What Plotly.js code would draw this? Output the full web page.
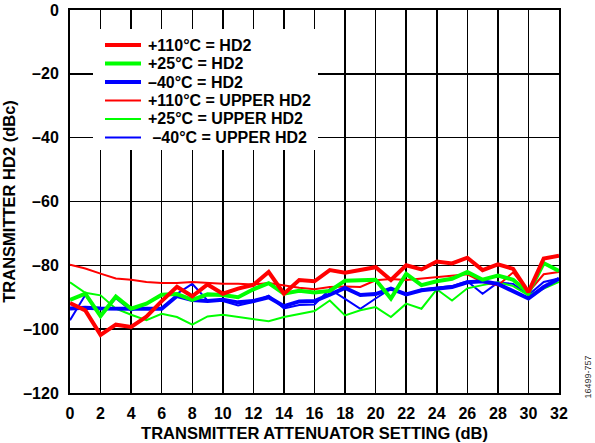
<!DOCTYPE html>
<html>
<head>
<meta charset="utf-8">
<script src="https://cdn.plot.ly/plotly-3.0.1.min.js"></script>
<style>html,body{margin:0;padding:0;background:#fff;}#chart{width:595px;height:443px;}</style>
</head>
<body>
<div id="chart"></div>
<script>
// Attenuator setting (dB)
const attenuation = [0,1,2,3,4,5,6,7,8,9,10,11,12,13,14,15,16,17,18,19,20,21,22,23,24,25,26,27,28,29,30,31,32];

// HD2 (dBc)
const hd2_p110 = [-91.8,-94.1,-101.8,-98.6,-99.3,-96.1,-91.2,-86.7,-89.7,-86.0,-88.9,-87.3,-86.1,-82.1,-88.9,-84.6,-85.0,-81.5,-82.3,-81.3,-80.6,-84.6,-80.0,-81.3,-78.8,-79.4,-77.6,-81.5,-79.7,-81.1,-88.4,-77.9,-77.0];
const hd2_p25  = [-90.8,-88.9,-95.9,-89.8,-93.6,-92.0,-89.2,-89.0,-90.8,-89.1,-89.3,-90.0,-87.5,-85.6,-88.9,-88.0,-88.5,-88.0,-84.8,-84.7,-84.5,-90.4,-82.7,-86.2,-85.0,-84.2,-82.1,-84.5,-83.2,-84.5,-88.6,-79.3,-81.8];
const hd2_m40  = [-93.5,-93.3,-93.5,-93.7,-93.6,-93.6,-93.6,-89.6,-90.9,-91.2,-90.8,-91.6,-91.2,-90.0,-92.8,-91.3,-91.2,-89.2,-87.1,-89.3,-89.0,-87.3,-89.1,-87.8,-87.3,-86.8,-85.3,-85.0,-85.8,-88.0,-90.4,-86.8,-84.2];

// Upper HD2 (dBc)
const upper_p110 = [-79.8,-81.0,-82.6,-84.1,-84.5,-85.2,-85.5,-85.5,-85.2,-85.5,-85.8,-85.8,-86.0,-85.5,-86.3,-87.0,-87.5,-86.8,-86.6,-86.8,-84.7,-84.3,-84.6,-84.1,-83.7,-83.3,-82.8,-85.2,-86.3,-82.2,-88.4,-82.8,-82.1];
const upper_p25  = [-85.3,-88.6,-89.4,-93.6,-95.5,-97.2,-95.2,-96.2,-98.6,-96.0,-95.5,-96.2,-97.0,-97.5,-96.2,-95.3,-94.3,-91.0,-95.7,-94.1,-93.1,-96.2,-92.0,-93.6,-87.5,-91.0,-87.2,-86.2,-85.3,-86.5,-89.4,-87.3,-85.2];
const upper_m40  = [-97.2,-89.3,-96.0,-90.3,-94.2,-92.0,-89.4,-88.9,-85.8,-91.0,-91.2,-92.6,-91.5,-89.5,-93.5,-92.4,-92.3,-87.5,-90.5,-93.6,-90.4,-87.3,-89.3,-87.6,-87.0,-86.5,-85.0,-88.9,-85.4,-85.8,-89.3,-85.2,-84.1];

const seriesNames = ['+110°C = HD2','+25°C = HD2','–40°C = HD2','+110°C = UPPER HD2','+25°C = UPPER HD2',' –40°C = UPPER HD2'];

const xTickVals = [0,2,4,6,8,10,12,14,16,18,20,22,24,26,28,30,32];
const xTickText = ['0','2','4','6','8','10','12','14','16','18','20','22','24','26','28','30','32'];
const yTickVals = [-120,-100,-80,-60,-40,-20,0];
const yTickText = ['–120','–100','–80','–60','–40','–20','0'];

const RED = '#ff0000', GREEN = '#00ff00', BLUE = '#0000ff';
const THICK = 4, THIN = 2;

const series = [
  {y: hd2_p110,   name: seriesNames[0], color: RED,   width: THICK},
  {y: hd2_p25,    name: seriesNames[1], color: GREEN, width: THICK},
  {y: hd2_m40,    name: seriesNames[2], color: BLUE,  width: THICK},
  {y: upper_p110, name: seriesNames[3], color: RED,   width: THIN},
  {y: upper_p25,  name: seriesNames[4], color: GREEN, width: THIN},
  {y: upper_m40,  name: seriesNames[5], color: BLUE,  width: THIN}
];

// draw thin first, thick on top (thick red last)
const drawOrder = [5, 4, 3, 2, 1, 0];
const data = drawOrder.map(i => ({
  x: attenuation, y: series[i].y, name: series[i].name, type: 'scatter', mode: 'lines',
  line: {color: series[i].color, width: series[i].width}, showlegend: false
}));

const FONT = 'Liberation Sans, Arial, sans-serif';
const bold = s => '<b>' + s + '</b>';

// plot-area geometry (px) for the hand-placed legend
const M = {l: 70, r: 36, t: 10, b: 50};
const W = 595, H = 443;
const PW = W - M.l - M.r, PH = H - M.t - M.b;
const px = p => (p - M.l) / PW;
const py = p => (H - M.b - p) / PH;

const shapes = [
  {type: 'rect', xref: 'paper', yref: 'paper', x0: px(93), x1: px(318), y0: py(150), y1: py(29),
   fillcolor: '#fff', line: {width: 0}, layer: 'above'}
];
const annotations = [];
const legTop = 45, legStep = 18.5;
series.forEach((s, i) => {
  const yy = legTop + i * legStep;
  shapes.push({type: 'line', xref: 'paper', yref: 'paper', x0: px(105), x1: px(141), y0: py(yy), y1: py(yy),
               line: {color: s.color, width: s.width}, layer: 'above'});
  annotations.push({text: bold(s.name), xref: 'paper', yref: 'paper', x: px(146), y: py(yy),
                    xanchor: 'left', yanchor: 'middle', showarrow: false,
                    font: {family: FONT, size: 16, color: '#000'}});
});
annotations.push({text: '16499-757', xref: 'paper', yref: 'paper', x: 1.06, y: -0.02,
                  xanchor: 'center', yanchor: 'bottom', textangle: -90, showarrow: false,
                  font: {family: FONT, size: 9, color: '#333'}});

const layout = {
  width: W, height: H,
  margin: M,
  paper_bgcolor: '#fff', plot_bgcolor: '#fff',
  font: {family: FONT, color: '#000', size: 15},
  showlegend: false,
  xaxis: {range: [0, 32], tickvals: xTickVals, ticktext: xTickText.map(bold),
          showgrid: true, gridcolor: '#000', gridwidth: 1.5,
          showline: true, linecolor: '#000', linewidth: 2, mirror: true,
          ticks: '', ticklabelstandoff: 5, zeroline: false,
          tickfont: {family: FONT, size: 16},
          title: {text: bold('TRANSMITTER ATTENUATOR SETTING (dB)'), standoff: 6,
                  font: {family: FONT, size: 16.5}}},
  yaxis: {range: [-120, 0], tickvals: yTickVals, ticktext: yTickText.map(bold),
          showgrid: true, gridcolor: '#000', gridwidth: 1.5,
          showline: true, linecolor: '#000', linewidth: 2, mirror: true,
          ticks: '', ticklabelstandoff: 6, zeroline: false,
          tickfont: {family: FONT, size: 16},
          title: {text: bold('TRANSMITTER HD2 (dBc)'), standoff: 4,
                  font: {family: FONT, size: 16.5}}},
  shapes: shapes,
  annotations: annotations
};

Plotly.newPlot('chart', data, layout, {displayModeBar: false, staticPlot: true});
</script>
</body>
</html>
